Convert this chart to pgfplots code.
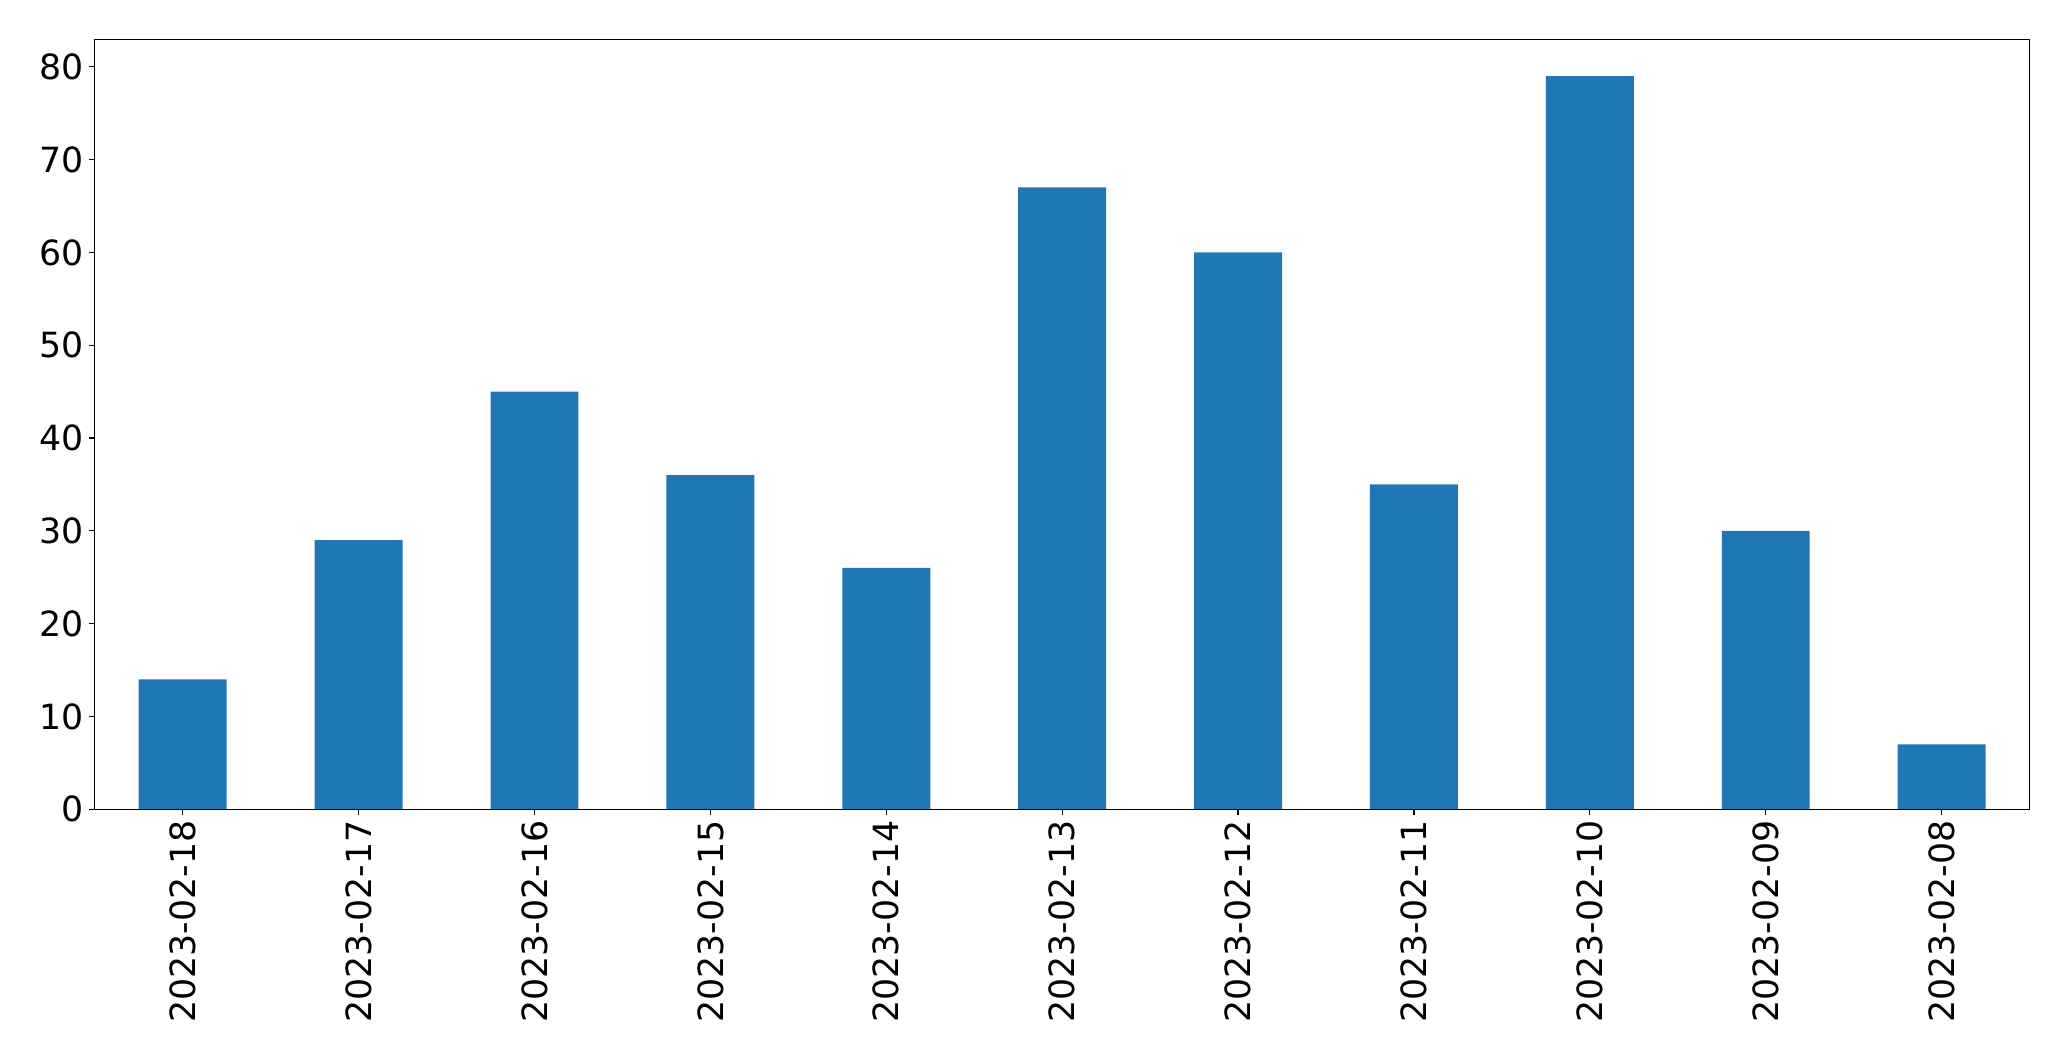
\documentclass[border=0pt]{standalone}
\usepackage{pgfplots}
\pgfplotsset{compat=1.18}
\usepackage{fontspec}
\setmainfont{DejaVu Sans}
\definecolor{mplblue}{HTML}{1F77B4}
\begin{document}
\begin{tikzpicture}
\begin{axis}[
  scale only axis,
  width=1393pt, height=554.2pt,
  xmin=-0.5, xmax=10.5,
  ymin=0, ymax=82.95,
  xtick={0,1,2,3,4,5,6,7,8,9,10},
  xticklabels={2023-02-18,2023-02-17,2023-02-16,2023-02-15,2023-02-14,2023-02-13,2023-02-12,2023-02-11,2023-02-10,2023-02-09,2023-02-08},
  ytick={0,10,20,30,40,50,60,70,80},
  xtick pos=bottom, ytick pos=left,
  tick align=outside,
  major tick length=3.8pt,
  tick style={line width=0.9pt, black},
  axis line style={line width=0.9pt},
  /pgf/number format/assume math mode=true,
  ticklabel style={font=\fontsize{25pt}{30pt}\selectfont},
  x tick label style={rotate=90, anchor=east, inner sep=0pt, outer sep=4.5pt},
  y tick label style={inner sep=0pt, outer sep=4.5pt},
  axis on top,
]
\addplot[ybar, bar width=0.5, fill=mplblue, draw=none] coordinates {
(0,14) (1,29) (2,45) (3,36) (4,26) (5,67) (6,60) (7,35) (8,79) (9,30) (10,7)};
\end{axis}
\pgfresetboundingbox
\path (current axis.south west) ++(-68.2pt,-181.4pt) rectangle ++(1491pt,764pt);
\end{tikzpicture}
\end{document}
